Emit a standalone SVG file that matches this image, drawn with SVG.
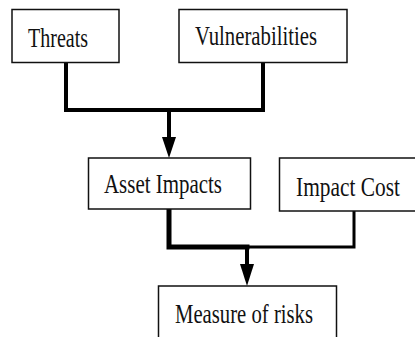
<svg xmlns="http://www.w3.org/2000/svg" width="415" height="337" viewBox="0 0 415 337">
<style>
.box{fill:#fff;stroke:#111;stroke-width:1.5}
.lbl{font-family:"Liberation Serif","DejaVu Serif",serif;font-size:27px;fill:#111}
.ln{fill:none;stroke:#000;stroke-width:4;stroke-linejoin:miter;stroke-linecap:square}
.ah{fill:#000}
</style>
<rect width="415" height="337" fill="#fff"/>
<g id="connectors">
<path class="ln" d="M66,64 V110 H263 V64"/>
<path class="ln" d="M169,110 V140"/>
<polygon class="ah" points="162,137 176,137 169,158"/>
<path class="ln" style="stroke-width:3" d="M247,247 H354 V212"/>
<path class="ln" style="stroke-width:5" d="M169,210 V247 H247"/>
<path class="ln" d="M247,247 V266"/>
<polygon class="ah" points="240,264 254,264 247,286"/>
</g>
<g id="threats">
<rect class="box" x="12" y="9.5" width="107" height="53"/>
<text class="lbl" x="28" y="47" textLength="60" lengthAdjust="spacingAndGlyphs">Threats</text>
</g>
<g id="vulnerabilities">
<rect class="box" x="179" y="9.5" width="168" height="53"/>
<text class="lbl" x="195" y="45" textLength="122" lengthAdjust="spacingAndGlyphs">Vulnerabilities</text>
</g>
<g id="asset-impacts">
<rect class="box" x="88.5" y="158" width="162" height="51"/>
<text class="lbl" x="104" y="193" textLength="118" lengthAdjust="spacingAndGlyphs">Asset Impacts</text>
</g>
<g id="impact-cost">
<rect class="box" x="279.5" y="158" width="145" height="53"/>
<text class="lbl" x="296" y="196" textLength="104" lengthAdjust="spacingAndGlyphs">Impact Cost</text>
</g>
<g id="measure-of-risks">
<rect class="box" x="158.5" y="286" width="178" height="60"/>
<text class="lbl" x="175" y="323" textLength="138" lengthAdjust="spacingAndGlyphs">Measure of risks</text>
</g>
</svg>
